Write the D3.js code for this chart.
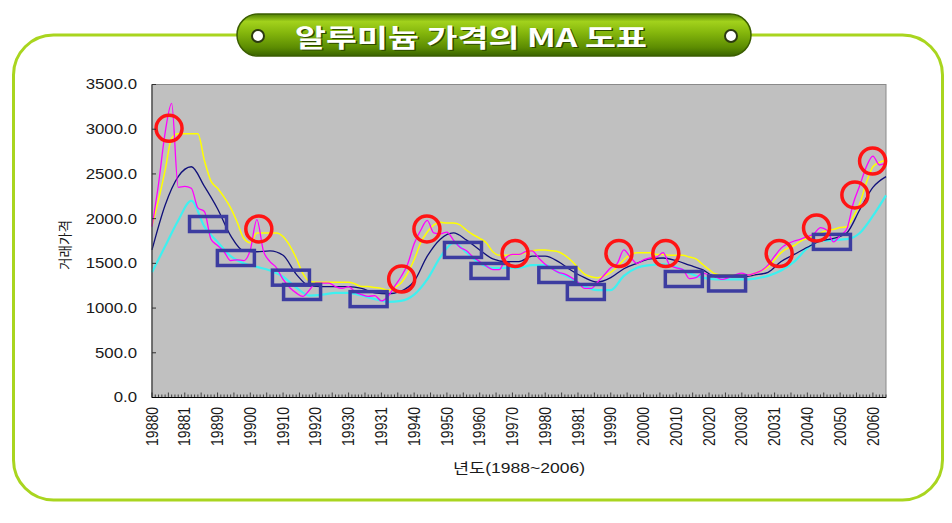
<!DOCTYPE html>
<html><head><meta charset="utf-8">
<script src="https://cdn.jsdelivr.net/npm/d3@7"></script>
<style>html,body{margin:0;padding:0;background:#fff;}svg{display:block;}</style>
</head><body>
<svg id="chart" width="952" height="523"></svg>
<script>
// ---------- data ----------
const chartTitle = "알루미늄 가격의 MA 도표";
const yAxisTitle = "거래가격";
const xAxisTitle = "년도(1988~2006)";
const xTickLabels = ["19880","19881","19890","19900","19910","19920","19930","19931","19940","19950","19960","19970","19980","19981","19990","20000","20010","20020","20030","20031","20040","20050","20060"];
const yTickValues = [0, 500, 1000, 1500, 2000, 2500, 3000, 3500];
const periodCount = 225;          // monthly periods, index 0..224
const labelEvery = 10;            // one category label every 10 periods

// price (magenta), sampled every 2 periods
const priceStep = 2;
const priceValues = [1910,2390,2960,3290,2350,2360,2340,2120,2080,1770,
  1700,1630,1530,1540,1530,1650,1990,1640,1520,1450,
  1320,1230,1170,1130,1200,1280,1280,1280,1240,1220,
  1240,1180,1150,1130,1140,1080,1130,1240,1350,1490,
  1720,1870,1980,1840,1830,1850,1760,1680,1640,1570,
  1520,1470,1430,1430,1560,1600,1600,1630,1640,1560,
  1490,1440,1400,1380,1340,1290,1220,1220,1290,1370,
  1450,1500,1650,1570,1500,1540,1560,1570,1620,1480,
  1450,1430,1330,1340,1390,1370,1350,1320,1340,1370,
  1390,1370,1390,1420,1480,1580,1670,1720,1750,1770,
  1800,1830,1900,1870,1740,1810,1880,2170,2370,2580,
  2700,2600,2620];

// short moving average (yellow), sampled every 2 periods
const maShortStep = 2;
const maShortValues = [1920,2210,2540,2900,2950,2950,2950,2950,2650,2420,
  2340,2240,2120,1960,1780,1730,1840,1840,1840,1840,
  1800,1700,1560,1390,1300,1290,1290,1290,1290,1290,
  1290,1270,1240,1240,1230,1220,1200,1230,1280,1390,
  1540,1730,1850,1930,1960,1950,1950,1930,1870,1820,
  1780,1730,1630,1590,1590,1600,1600,1620,1640,1650,
  1650,1640,1630,1590,1530,1450,1380,1350,1340,1360,
  1400,1460,1540,1600,1620,1620,1620,1600,1600,1590,
  1590,1590,1570,1550,1490,1430,1380,1370,1370,1370,
  1370,1370,1390,1420,1460,1540,1620,1670,1700,1750,
  1780,1810,1840,1870,1880,1900,1910,2020,2170,2400,
  2580,2630,2650];

// medium moving average (navy), sampled every 4 periods
const maMidStep = 4;
const maMidValues = [1650,2150,2470,2580,2360,2110,1810,1640,1630,1640,
  1590,1380,1250,1240,1240,1240,1220,1170,1160,1190,
  1300,1580,1770,1840,1760,1650,1550,1520,1520,1580,
  1580,1520,1420,1340,1290,1340,1440,1500,1550,1560,
  1530,1480,1430,1350,1350,1350,1370,1400,1520,1600,
  1680,1750,1780,1840,2100,2350,2470];

// long moving average (cyan), sampled every 4 periods
const maLongStep = 4;
const maLongValues = [1400,1690,1980,2200,1910,1740,1580,1500,1460,1420,
  1350,1230,1140,1150,1170,1170,1140,1100,1070,1080,
  1150,1320,1570,1730,1620,1500,1450,1450,1450,1480,
  1480,1400,1330,1240,1200,1200,1360,1450,1480,1490,
  1460,1390,1340,1320,1320,1320,1330,1360,1420,1520,
  1670,1750,1760,1770,1840,2030,2260];

// highlighted peaks (red circles): [period index, price]
const peakMarks = [[5.2,3010],[32.6,1885],[76.2,1325],[83.9,1885],[110.8,1610],[142.5,1610],
  [156.8,1610],[191.4,1610],[202.8,1895],[214.5,2265],[219.9,2645]];
// highlighted troughs (blue boxes): [period index, price]
const troughMarks = [[17.1,1940],[25.6,1560],[42.4,1340],[45.8,1180],[66.1,1100],[94.9,1650],
  [103,1415],[123.7,1370],[132.4,1180],[162.3,1325],[175.5,1275],[207.5,1740]];

// ---------- drawing ----------
const svg = d3.select("#chart");
const plot = {left:152, right:886, top:84.5, bottom:397.5};
const x = d3.scaleLinear().domain([0, periodCount - 1]).range([plot.left, plot.right]);
const y = d3.scaleLinear().domain([0, 3500]).range([plot.bottom, plot.top]);
const latin = "'Liberation Sans', Arial, 'Noto Sans CJK KR', sans-serif";
const hangul = "'Noto Sans CJK KR', 'Liberation Sans', sans-serif";

const defs = svg.append("defs");
const pg = defs.append("linearGradient").attr("id","pill").attr("x1",0).attr("y1",0).attr("x2",0).attr("y2",1);
[[0,"#4f7f04"],[0.18,"#a2d21c"],[0.45,"#84b60c"],[0.8,"#5c8c02"],[1,"#3a6400"]]
  .forEach(([o,c]) => pg.append("stop").attr("offset",o).attr("stop-color",c));

// outer rounded frame
svg.append("rect").attr("x",13.5).attr("y",35).attr("width",929).attr("height",465)
  .attr("rx",40).attr("fill","none").attr("stroke","#a9d51f").attr("stroke-width",3);

// title pill
svg.append("rect").attr("x",237).attr("y",14).attr("width",514).attr("height",42).attr("rx",21)
  .attr("fill","url(#pill)").attr("stroke","#3b5e00").attr("stroke-width",1.5);
[258, 731].forEach(cx => svg.append("circle").attr("cx",cx).attr("cy",36).attr("r",6)
  .attr("fill","#fff").attr("stroke","#2c3a10").attr("stroke-width",2));
const tShadow = svg.append("text").attr("x",472.5).attr("y",37).text(chartTitle);
const tMain = svg.append("text").attr("x",471).attr("y",35.5).text(chartTitle);
[tShadow, tMain].forEach((t,i) => t.attr("text-anchor","middle").attr("dominant-baseline","central")
  .attr("font-family",hangul).attr("font-weight",700).attr("font-size",25)
  .attr("textLength",352).attr("lengthAdjust","spacingAndGlyphs")
  .attr("fill", i === 0 ? "#2d4a00" : "#ffffff"));

// plot area
svg.append("rect").attr("x",plot.left).attr("y",plot.top).attr("width",plot.right-plot.left)
  .attr("height",plot.bottom-plot.top).attr("fill","#c0c0c0").attr("stroke","#8a8a8a").attr("stroke-width",1);

// lines
function seriesPoints(values, step){ return values.map((v,i) => [i*step, v]); }
const line = d3.line().x(d => x(d[0])).y(d => y(d[1])).curve(d3.curveMonotoneX);
const lineSpecs = [
  [maLongValues, maLongStep, "#3ef0f0", 2.2],
  [maMidValues, maMidStep, "#10107a", 1.3],
  [maShortValues, maShortStep, "#ffff00", 1.5],
  [priceValues, priceStep, "#ff00ff", 1.3]
];
lineSpecs.forEach(([vals, step, color, w]) => {
  svg.append("path").datum(seriesPoints(vals, step)).attr("d", line)
    .attr("fill","none").attr("stroke",color).attr("stroke-width",w).attr("stroke-linejoin","round");
});

// annotations
svg.append("g").selectAll("rect").data(troughMarks).join("rect")
  .attr("x", d => x(d[0]) - 18.5).attr("y", d => y(d[1]) - 7.5)
  .attr("width",37).attr("height",15)
  .attr("fill","none").attr("stroke","#3c3ca0").attr("stroke-width",3.5);
svg.append("g").selectAll("circle").data(peakMarks).join("circle")
  .attr("cx", d => x(d[0])).attr("cy", d => y(d[1])).attr("r",13)
  .attr("fill","none").attr("stroke","#ff1414").attr("stroke-width",3.5);

// axes lines & ticks
svg.append("line").attr("x1",plot.left).attr("x2",plot.left).attr("y1",plot.top).attr("y2",plot.bottom)
  .attr("stroke","#404040").attr("stroke-width",1.2);
svg.append("g").selectAll("line").data(yTickValues).join("line")
  .attr("x1",plot.left).attr("x2",plot.left+4).attr("y1",d=>y(d)).attr("y2",d=>y(d))
  .attr("stroke","#303030");
svg.append("g").selectAll("line").data(d3.range(periodCount)).join("line")
  .attr("x1",d=>x(d)).attr("x2",d=>x(d)).attr("y1",plot.bottom)
  .attr("y2",d=> plot.bottom - (d % 5 === 0 ? 5 : 3))
  .attr("stroke","#202020").attr("stroke-width",0.8);
svg.append("line").attr("x1",plot.left).attr("x2",plot.right).attr("y1",plot.bottom).attr("y2",plot.bottom)
  .attr("stroke","#000").attr("stroke-width",1.2);

// y tick labels
svg.append("g").selectAll("g").data(yTickValues).join("g")
  .attr("transform", d => `translate(137,${y(d)}) scale(1.2,1)`)
  .append("text").attr("text-anchor","end").attr("dy","0.35em")
  .attr("font-family",latin).attr("font-size",14).attr("fill","#1a1a1a")
  .text(d => d3.format(".1f")(d));

// x tick labels
svg.append("g").selectAll("g").data(xTickLabels).join("g")
  .attr("transform", (d,i) => `translate(${x(i*labelEvery)},407) scale(1.15,1) rotate(-90)`)
  .append("text").attr("text-anchor","end").attr("dy","0.35em")
  .attr("font-family",latin).attr("font-size",14).attr("fill","#1a1a1a")
  .text(d => d);

// axis titles
svg.append("text").attr("x",519).attr("y",468).attr("text-anchor","middle").attr("dominant-baseline","central")
  .attr("font-family",latin).attr("font-size",14).attr("fill","#1a1a1a")
  .attr("textLength",132).attr("lengthAdjust","spacingAndGlyphs").text(xAxisTitle);
svg.append("text").attr("transform","translate(64,245) rotate(-90)")
  .attr("text-anchor","middle").attr("dominant-baseline","central")
  .attr("font-family",hangul).attr("font-size",14).attr("fill","#1a1a1a")
  .attr("textLength",50).attr("lengthAdjust","spacingAndGlyphs").text(yAxisTitle);
</script>
</body></html>
